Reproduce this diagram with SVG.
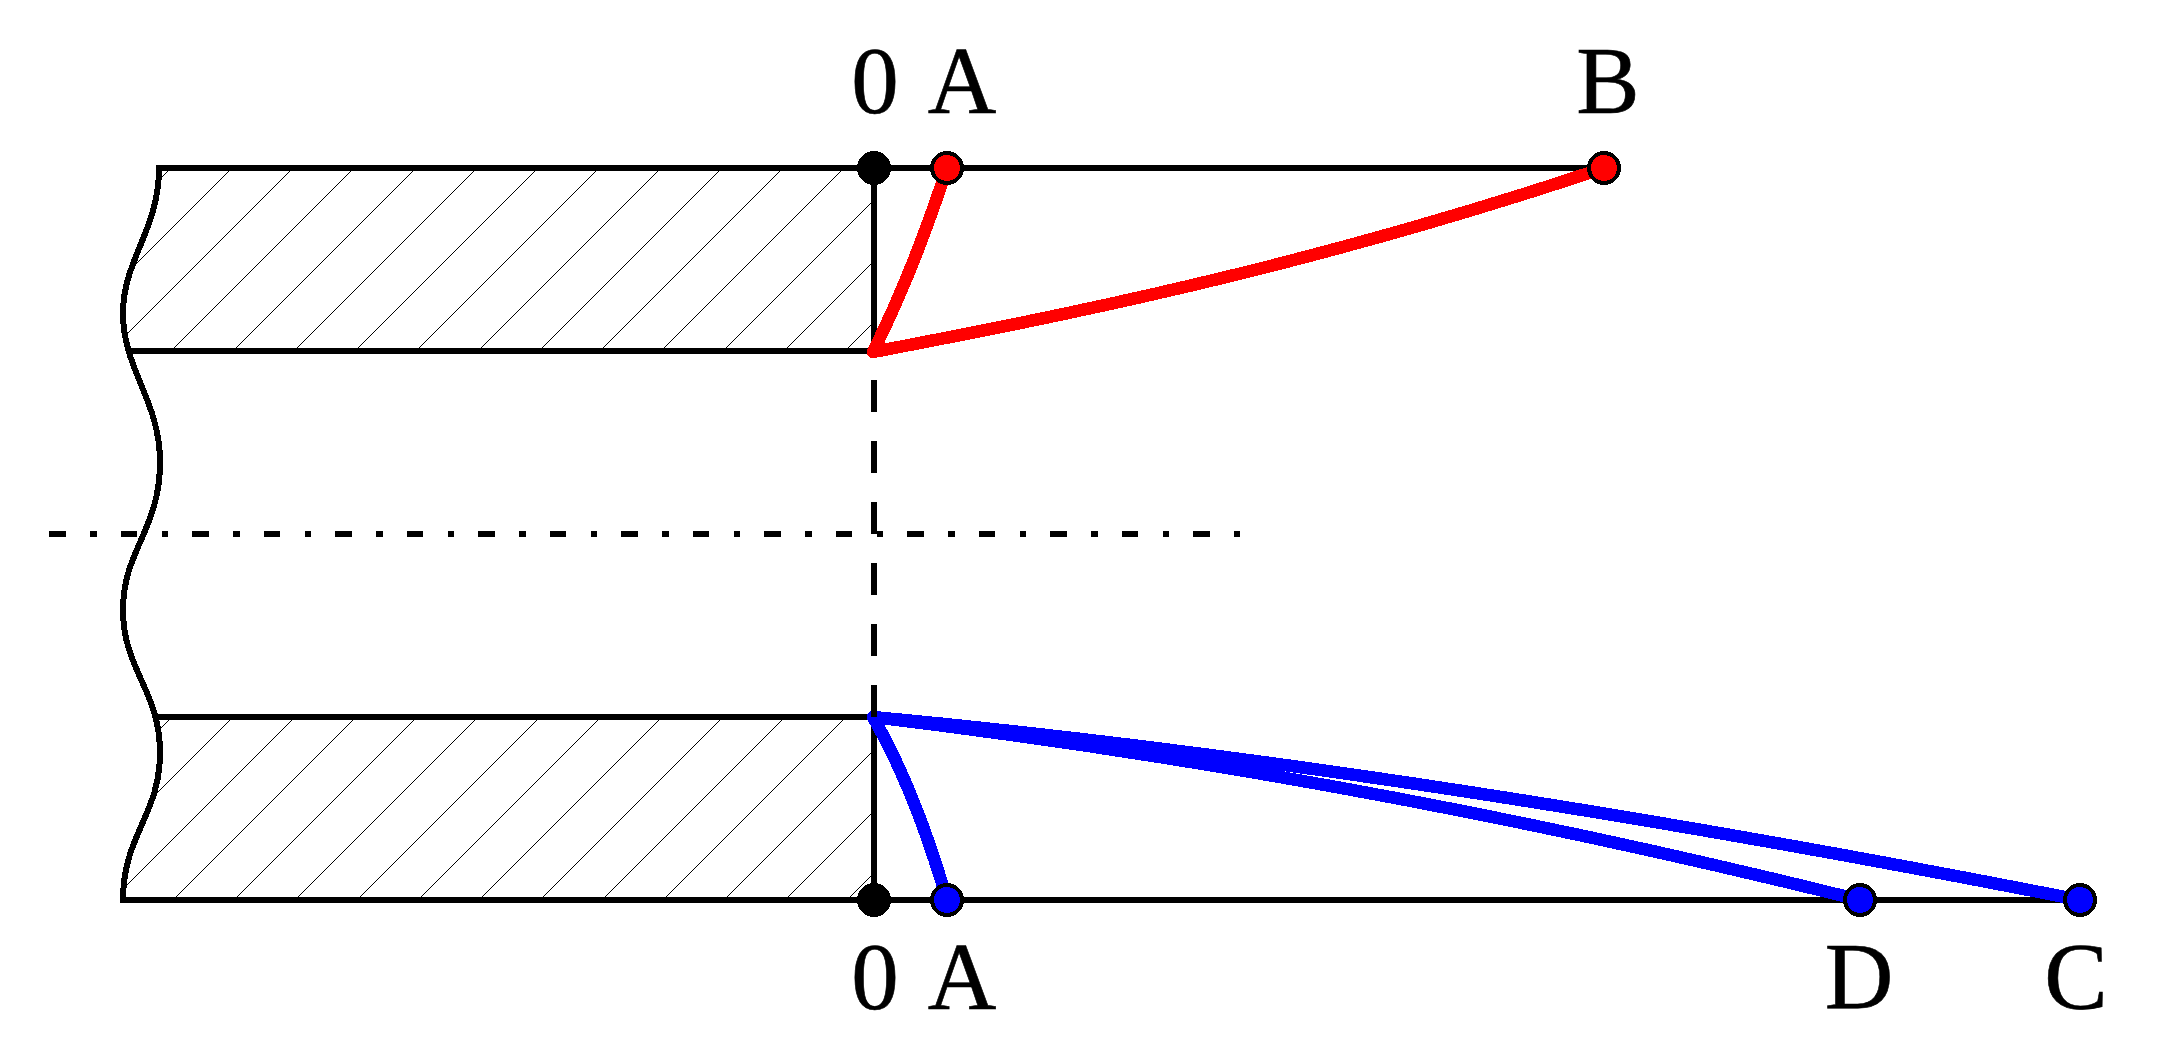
<svg xmlns="http://www.w3.org/2000/svg" width="2157" height="1058" viewBox="0 0 2157 1058">
<style>
.s{fill:none;stroke:#000;stroke-width:6;shape-rendering:crispEdges}
.h{fill:none;stroke:#000;stroke-width:1;shape-rendering:crispEdges}
.r{fill:none;stroke:#f00;stroke-width:12.5;stroke-linecap:round;shape-rendering:crispEdges}
.b{fill:none;stroke:#00f;stroke-width:12.5;stroke-linecap:round;shape-rendering:crispEdges}
.d{stroke:#000;stroke-width:4;shape-rendering:crispEdges}
text{font-family:"Liberation Serif","Times New Roman",serif;font-size:95px;fill:#000;stroke:#000;stroke-width:.6;text-anchor:middle}
</style>
<defs>
<clipPath id="ct"><path d="M159 168C159 230 123 260 123 313Q123 335 128 351H874V168Z"/></clipPath>
<clipPath id="cb"><path d="M157 717Q160 735 160 753C160 815 123 835 123 900H874V717Z"/></clipPath>
</defs>
<rect width="2157" height="1058" fill="#fff"/>
<g id="hatching">
<path class="h" clip-path="url(#ct)" d="M168 171L-9 348M229 171L52 348M290 171L113 348M351 171L174 348M413 171L236 348M474 171L297 348M535 171L358 348M596 171L419 348M658 171L481 348M719 171L542 348M780 171L603 348M841 171L664 348M903 171L726 348M964 171L787 348M1025 171L848 348"/>
<path class="h" clip-path="url(#cb)" d="M169 720L-8 897M230 720L53 897M292 720L115 897M353 720L176 897M414 720L237 897M475 720L298 897M537 720L360 897M598 720L421 897M659 720L482 897M720 720L543 897M782 720L605 897M843 720L666 897M904 720L727 897M965 720L788 897M1027 720L850 897"/>
</g>
<g id="connectors">
<path id="break-line" class="s" d="M159 168C159 230 123 260 123 313C123 370 160 400 160 462C160 530 123 550 123 610C123 670 160 690 160 753C160 815 123 835 123 900"/>
<path class="s" d="M156 168H1604"/>
<path class="s" d="M127 351H874"/>
<path class="s" d="M155 717H874"/>
<path class="s" d="M120 900H2080"/>
<path class="s" d="M874 168V351"/>
<path class="s" d="M874 717V900"/>
<path id="axis" class="s" d="M49 534H1240" stroke-dasharray="16.5 24.5 6.5 24"/>
<path id="red-a" class="r" d="M873 352Q913 272 947 168"/>
<path id="red-b" class="r" d="M873 352C1050 318 1300 270 1604 168"/>
<path id="blue-a" class="b" d="M873 717Q915 790 947 900"/>
<path id="blue-d" class="b" d="M873 717Q1363 776 1860 900"/>
<path id="blue-c" class="b" d="M873 717Q1400 766 2080 900"/>
<path id="section-line" class="s" d="M874 380V718" stroke-dasharray="32 29"/>
</g>
<g id="node-top-0"><circle class="d" cx="874" cy="168" r="15" fill="#000"/><text x="875" y="113">0</text></g>
<g id="node-top-A"><circle class="d" cx="947" cy="168" r="15" fill="#f00"/><text x="962" y="113">A</text></g>
<g id="node-top-B"><circle class="d" cx="1604" cy="168" r="15" fill="#f00"/><text x="1608" y="113">B</text></g>
<g id="node-bottom-0"><circle class="d" cx="874" cy="900" r="15" fill="#000"/><text x="875" y="1009">0</text></g>
<g id="node-bottom-A"><circle class="d" cx="947" cy="900" r="15" fill="#00f"/><text x="962" y="1009">A</text></g>
<g id="node-bottom-D"><circle class="d" cx="1860" cy="900" r="15" fill="#00f"/><text x="1859" y="1009">D</text></g>
<g id="node-bottom-C"><circle class="d" cx="2080" cy="900" r="15" fill="#00f"/><text x="2076" y="1009">C</text></g>
</svg>
